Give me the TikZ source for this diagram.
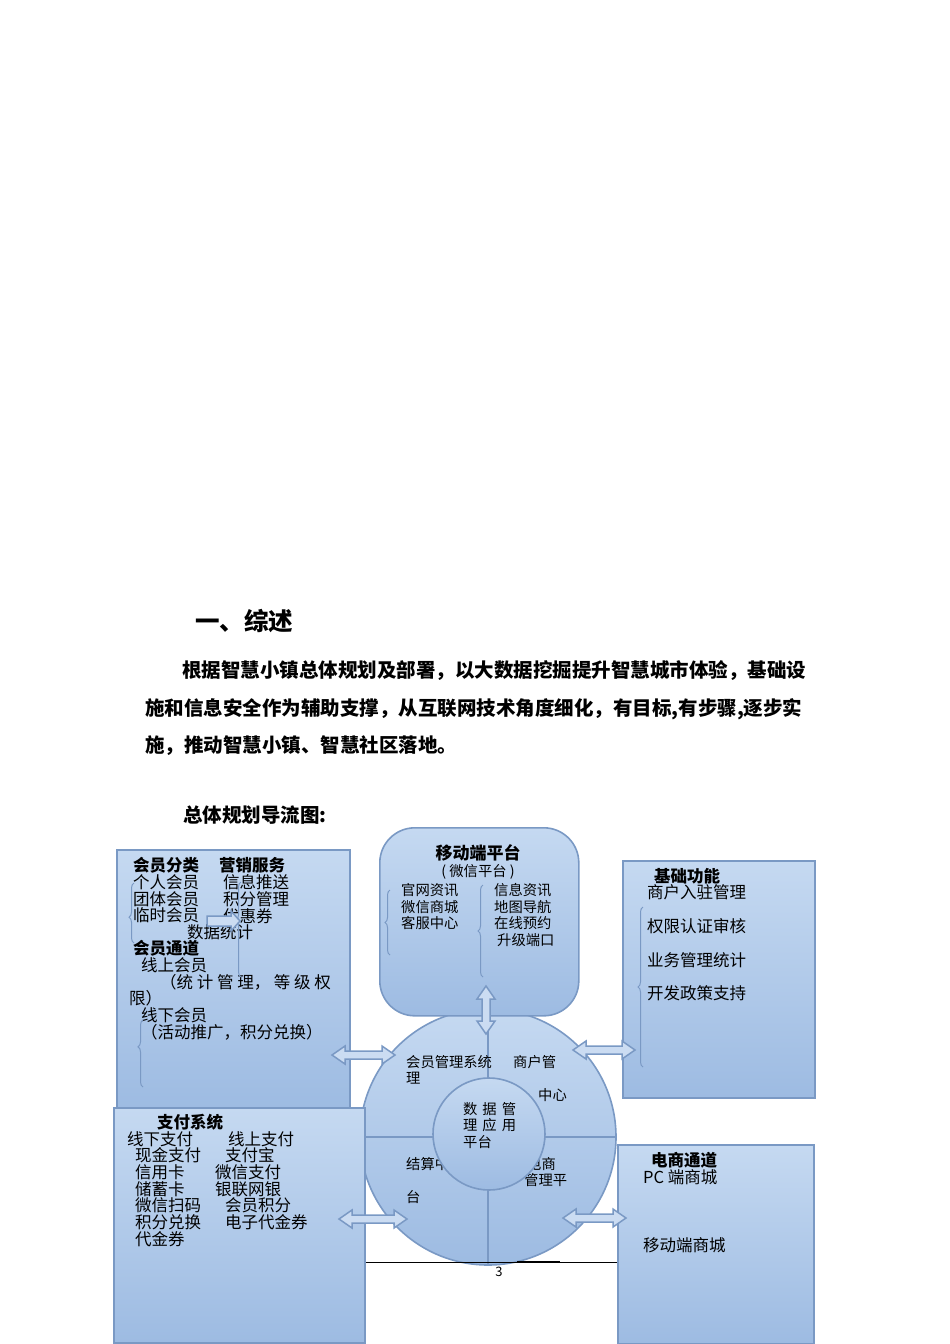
\documentclass[tikz,border=0pt]{standalone}
\usepackage{fontspec}
\setmainfont{Noto Sans CJK SC}
\usetikzlibrary{positioning,calc,decorations.pathreplacing}

\definecolor{boxtop}{RGB}{197,217,241}
\definecolor{boxbot}{RGB}{157,187,226}
\definecolor{boxline}{RGB}{122,153,196}
\definecolor{arrfill}{RGB}{203,220,242}

\tikzset{
  panel/.style={draw=boxline,line width=1.6pt,top color=boxtop,bottom color=boxbot},
  divider/.style={draw=boxline,line width=1.4pt},
  para/.style={anchor=west,inner sep=0pt,font=\bfseries\fontsize{19.5}{20}\selectfont},
  head/.style={anchor=west,inner sep=0pt,font=\bfseries\fontsize{16.5}{17}\selectfont},
  item/.style={anchor=west,inner sep=0pt,font=\fontsize{16.5}{16.7}\selectfont},
  list/.style={anchor=north west,inner sep=0pt,align=left,font=\fontsize{16.5}{16.7}\selectfont},
  small/.style={anchor=west,inner sep=0pt,font=\fontsize{14.3}{16.5}\selectfont},
  curly/.style={draw=boxline,line width=1pt,decorate,decoration={brace,amplitude=5pt,aspect=#1}},
  curly/.default=0.5,
  blockarrow/.style={draw=boxline,line width=1.5pt,fill=arrfill,line join=miter},
}

% double block arrow between two named coordinates
\newcommand{\dblarrow}[2]{%
  \draw[blockarrow] (#1) -- ($(#1)!13pt!(#2)!9pt!90:(#2)$) -- ($(#1)!13pt!(#2)!4pt!90:(#2)$)
    -- ($(#2)!13pt!(#1)!4pt!-90:(#1)$) -- ($(#2)!13pt!(#1)!9pt!-90:(#1)$) -- (#2)
    -- ($(#2)!13pt!(#1)!9pt!90:(#1)$) -- ($(#2)!13pt!(#1)!4pt!90:(#1)$)
    -- ($(#1)!13pt!(#2)!4pt!-90:(#2)$) -- ($(#1)!13pt!(#2)!9pt!-90:(#2)$) -- cycle;}

\begin{document}
\begin{tikzpicture}[x=1pt,y=-1pt]
  \useasboundingbox (0,0) rectangle (950,1344);

  % text above the chart
  \node[anchor=west,inner sep=0pt,font=\bfseries\fontsize{24.5}{25}\selectfont] (title) at (195,621) {一、综述};
  \node[para] (line1) at (182,671) {根据智慧小镇总体规划及部署，以大数据挖掘提升智慧城市体验，基础设};
  \node[para] (line2) at (145,709) {施和信息安全作为辅助支撑，从互联网技术角度细化，有目标,有步骤,逐步实};
  \node[para] (line3) at (145,746) {施，推动智慧小镇、智慧社区落地。};
  \node[para] (caption) at (183,815) {总体规划导流图:};

  % hub circle
  \coordinate (hub) at (488,1137);
  \draw[panel] (hub) circle[radius=128pt];
  \draw[divider] ($(hub)+(0,-128)$) -- ($(hub)+(0,128)$);
  \draw[divider] ($(hub)+(-128,0)$) -- ($(hub)+(128,0)$);
  \node[small] (ringA) at (406,1062) {会员管理系统};
  \node[small] (ringA2) at (406,1078) {理};
  \node[small] (ringB) at (513,1062) {商户管};
  \node[small] (ringB2) at (538,1095) {中心};
  \node[small] (ringC) at (406,1164) {结算中};
  \node[small] (ringC2) at (406,1197) {台};
  \node[small] (ringD) at (527,1164) {电商};
  \node[small] (ringD2) at (524,1180) {管理平};
  \node[panel,circle,minimum size=112pt,inner sep=0pt] (core) at (489,1134) {};
  \node[small,anchor=north west,align=left] (coretext) at (463,1102) {数\hspace{5pt}据\hspace{5pt}管\\理\hspace{5pt}应\hspace{5pt}用\\平台};

  % page footer
  \draw[black,line width=0.6pt] (365,1262) -- (617,1262);
  \draw[black,line width=1.6pt] (517,1262) -- (560,1262);
  \node[inner sep=0pt,font=\fontsize{13}{14}\selectfont] (pageno) at (499,1272) {3};

  % mobile platform
  \node[panel,rounded corners=35pt,minimum width=199pt,minimum height=188pt,anchor=north west] (mobile) at (379,827) {};
  \node[inner sep=0pt,font=\bfseries\fontsize{17}{17}\selectfont] (mobtitle) at (478,853) {移动端平台};
  \node[inner sep=0pt,font=\fontsize{14.3}{15}\selectfont] (mobsub) at (478,872) {( 微信平台 )};
  \node[small,anchor=north west,align=left] (mobleft) at (401,883.5) {官网资讯\\微信商城\\客服中心};
  \node[small,anchor=north west,align=left] (mobright) at (494,883.5) {信息资讯\\地图导航\\在线预约\\\hspace*{3pt}升级端口};
  \draw[curly=0.5] (390,955) -- (390,890);
  \draw[curly=0.5] (483,977) -- (483,885);

  % member box
  \node[panel,minimum width=233pt,minimum height=259pt,anchor=north west] (memberbox) at (116,849) {};
  \node[head] (kinds) at (133,865) {会员分类};
  \node[head] (market) at (219,865) {营销服务};
  \node[list] (kindlist) at (133,874.5) {个人会员\\团体会员\\临时会员};
  \node[list] (marketlist) at (223,874.5) {信息推送\\积分管理\\优惠券};
  \node[item] (stats) at (187,932) {数据统计};
  \node[head] (channel) at (133,948) {会员通道};
  \node[item] (online) at (141,965) {线上会员};
  \node[item] (onlinenote) at (160,982) {（统 计 管 理， 等 级 权};
  \node[item] (onlinenote2) at (129,998) {限）};
  \node[item] (offline) at (141,1015) {线下会员};
  \node[item] (offlinenote) at (141,1032) {（活动推广，积分兑换）};
  \draw[curly=0.43] (134,943) -- (134,883);
  \draw[curly=0.6] (241,977) -- (241,882);
  \draw[curly=0.6] (143,1087) -- (143,1020);
  \coordinate (statA) at (207,921);
  \coordinate (statB) at (240,921);
  \draw[blockarrow] (statA) -- ++(0,-5) -- ++(24,0) -- ++(0,-5) -- (statB) -- ++(-9,10) -- ++(0,-5) -- ++(-24,0) -- cycle;

  % payment box
  \node[panel,minimum width=251pt,minimum height=235pt,anchor=north west] (paybox) at (113,1107) {};
  \node[head] (paytitle) at (157,1122) {支付系统};
  \node[item] (offpay) at (127,1139) {线下支付};
  \node[item] (onpay) at (228,1139) {线上支付};
  \node[list] (offpaylist) at (135,1147.5) {现金支付\\信用卡\\储蓄卡\\微信扫码\\积分兑换\\代金券};
  \node[list] (onpaylist) at (215,1147.5) {\hspace*{10pt}支付宝\\微信支付\\银联网银\\\hspace*{10pt}会员积分\\\hspace*{10pt}电子代金券};

  % basic functions box
  \node[panel,minimum width=192pt,minimum height=237pt,anchor=north west] (basicbox) at (622,860) {};
  \node[head] (basictitle) at (654,876) {基础功能};
  \node[list,font=\fontsize{16.5}{33.7}\selectfont] (basiclist) at (647,884.5) {商户入驻管理\\权限认证审核\\业务管理统计\\开发政策支持};
  \draw[curly=0.5] (643,1067) -- (643,907);

  % e-commerce box
  \node[panel,minimum width=196pt,minimum height=199pt,anchor=north west] (shopbox) at (617,1144) {};
  \node[head] (shoptitle) at (651,1160) {电商通道};
  \node[item] (pcshop) at (643,1177) {PC 端商城};
  \node[item] (mobshop) at (643,1245) {移动端商城};

  % arrows to the hub
  \coordinate (mobA) at (486,986);
  \coordinate (mobB) at (486,1034);
  \coordinate (memA) at (332,1055);
  \coordinate (memB) at (395,1055);
  \coordinate (basA) at (573,1050);
  \coordinate (basB) at (635,1050);
  \coordinate (payA) at (339,1219);
  \coordinate (payB) at (407,1219);
  \coordinate (shpA) at (563,1218);
  \coordinate (shpB) at (626,1218);
  \dblarrow{mobA}{mobB}
  \dblarrow{memA}{memB}
  \dblarrow{basA}{basB}
  \dblarrow{payA}{payB}
  \dblarrow{shpA}{shpB}
\end{tikzpicture}
\end{document}
